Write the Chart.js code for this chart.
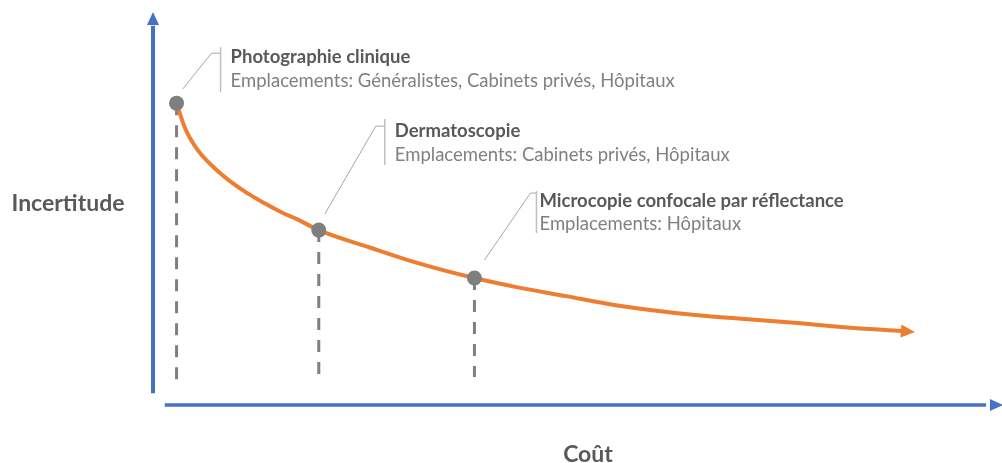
<!DOCTYPE html>
<html lang="fr">
<head>
<meta charset="utf-8">
<title>Incertitude vs Coût</title>
<script src="https://cdn.jsdelivr.net/npm/chart.js@4.4.1/dist/chart.umd.min.js"></script>
<style>
  html, body { margin: 0; padding: 0; background: #fff; }
  #wrap { width: 1002px; height: 463px; position: relative; }
</style>
</head>
<body>
<div id="wrap"><canvas id="chart" width="1002" height="463"></canvas></div>
<script>
// Courbe coût / incertitude (échelle 0-100 sur chaque axe)
const curveCost = [2.8, 3.8, 5.3, 7.3, 9.3, 11.2, 13.2, 15.2, 17.1, 19.7, 25.6, 31.5, 38.2, 43.2, 49.1, 55.0, 64.4, 70.3, 76.2, 82.1, 89.0];
const curveUncertainty = [76.8, 70.5, 64.9, 60.3, 56.7, 53.9, 51.4, 49.1, 47.3, 44.5, 40.2, 36.1, 32.3, 30.0, 27.7, 25.4, 22.9, 21.9, 20.9, 19.8, 18.8];

// Techniques d'imagerie
const techniques = ['Photographie clinique', 'Dermatoscopie', 'Microcopie confocale par réflectance'];
const locationsText = [
  'Emplacements: Généralistes, Cabinets privés, Hôpitaux',
  'Emplacements: Cabinets privés, Hôpitaux',
  'Emplacements: Hôpitaux'
];
const techCost = [2.8, 19.7, 38.2];
const techUncertainty = [76.8, 44.5, 32.3];
const dropBottom = [5.3, 6.9, 7.1];

const xTitle = 'Coût';
const yTitle = 'Incertitude';

const ORANGE = '#ED7D31';
const BLUE = '#4472C4';
const GREY = '#7F7F7F';
const FONT = 'Lato, "Open Sans", sans-serif';

// leader line / text placement, relative to each marker (px)
const callouts = [
  { sx: 6, sy: -14, ex: 35, ey: -50, bar: 44, barTop: -56, barBot: -11, tx: 54, ty1: -46, ty2: -22 },
  { sx: 6, sy: -16, ex: 57, ey: -104, bar: 66, barTop: -111, barBot: -65, tx: 76, ty1: -99, ty2: -75 },
  { sx: 10, sy: -18, ex: 56, ey: -85, bar: 62, barTop: -87, barBot: -45, tx: 65, ty1: -77, ty2: -54 }
];

function arrowHead(ctx, x0, y0, x1, y1, len, half, color) {
  const a = Math.atan2(y1 - y0, x1 - x0);
  const bx = x1 - Math.cos(a) * len, by = y1 - Math.sin(a) * len;
  ctx.fillStyle = color;
  ctx.beginPath();
  ctx.moveTo(x1, y1);
  ctx.lineTo(bx + Math.sin(a) * half, by - Math.cos(a) * half);
  ctx.lineTo(bx - Math.sin(a) * half, by + Math.cos(a) * half);
  ctx.closePath();
  ctx.fill();
}

const decor = {
  id: 'decor',
  beforeDatasetsDraw(chart) {
    const { ctx, scales: { x, y } } = chart;
    ctx.save();
    ctx.strokeStyle = BLUE;
    ctx.lineWidth = 4;
    // vertical axis
    const ax = x.getPixelForValue(0);
    ctx.beginPath();
    ctx.moveTo(ax, y.getPixelForValue(3));
    ctx.lineTo(ax, y.getPixelForValue(96.5));
    ctx.stroke();
    arrowHead(ctx, ax, y.getPixelForValue(50), ax, y.getPixelForValue(100), 13, 6, BLUE);
    // horizontal axis
    const ay = y.getPixelForValue(0);
    ctx.lineWidth = 3.5;
    ctx.beginPath();
    ctx.moveTo(x.getPixelForValue(1.4), ay);
    ctx.lineTo(x.getPixelForValue(99), ay);
    ctx.stroke();
    arrowHead(ctx, x.getPixelForValue(50), ay, x.getPixelForValue(101), ay, 13, 6, BLUE);

    // axis titles
    ctx.fillStyle = '#595959';
    ctx.font = 'bold 23px ' + FONT;
    ctx.textAlign = 'center';
    ctx.textBaseline = 'middle';
    ctx.fillText(yTitle, 68, 204);
    ctx.fillText(xTitle, 588, 455);
    ctx.restore();
  },
  afterDatasetsDraw(chart) {
    const { ctx, scales: { x, y } } = chart;
    ctx.save();
    // arrow at the end of the curve
    const n = curveCost.length;
    const px0 = x.getPixelForValue(curveCost[n - 2]), py0 = y.getPixelForValue(curveUncertainty[n - 2]);
    const px1 = x.getPixelForValue(curveCost[n - 1]), py1 = y.getPixelForValue(curveUncertainty[n - 1]);
    const a = Math.atan2(py1 - py0, px1 - px0);
    arrowHead(ctx, px1, py1, px1 + Math.cos(a) * 13, py1 + Math.sin(a) * 13, 14, 6.5, ORANGE);

    // callouts
    techniques.forEach((name, i) => {
      const c = callouts[i];
      const mx = x.getPixelForValue(techCost[i]);
      const my = y.getPixelForValue(techUncertainty[i]);
      ctx.strokeStyle = '#A6A6A6';
      ctx.lineWidth = 1;
      ctx.beginPath();
      ctx.moveTo(mx + c.sx, my + c.sy);
      ctx.lineTo(mx + c.ex, my + c.ey);
      ctx.lineTo(mx + c.bar, my + c.ey);
      ctx.stroke();
      ctx.strokeStyle = '#BFBFBF';
      ctx.lineWidth = 1.5;
      ctx.beginPath();
      ctx.moveTo(mx + c.bar, my + c.barTop);
      ctx.lineTo(mx + c.bar, my + c.barBot);
      ctx.stroke();

      ctx.textAlign = 'left';
      ctx.textBaseline = 'middle';
      ctx.fillStyle = '#595959';
      ctx.font = 'bold 18.5px ' + FONT;
      ctx.fillText(name, mx + c.tx, my + c.ty1);
      ctx.fillStyle = '#808080';
      ctx.font = '18.5px ' + FONT;
      ctx.fillText(locationsText[i], mx + c.tx, my + c.ty2);
    });
    ctx.restore();
  }
};

const dropSets = techCost.map((c, i) => ({
  data: [{ x: c, y: techUncertainty[i] }, { x: c, y: dropBottom[i] }],
  borderColor: GREY,
  borderWidth: 3,
  borderDash: [12, 10],
  pointRadius: 0,
  order: 3
}));

new Chart(document.getElementById('chart'), {
  type: 'line',
  data: {
    datasets: [
      {
        data: techCost.map((c, i) => ({ x: c, y: techUncertainty[i] })),
        showLine: false,
        pointRadius: 7.5,
        pointBackgroundColor: GREY,
        pointBorderColor: GREY,
        pointBorderWidth: 0,
        order: 0
      },
      {
        data: curveCost.map((c, i) => ({ x: c, y: curveUncertainty[i] })),
        borderColor: ORANGE,
        borderWidth: 4,
        cubicInterpolationMode: 'monotone',
        pointRadius: 0,
        order: 1
      },
      ...dropSets
    ]
  },
  options: {
    responsive: false,
    animation: false,
    devicePixelRatio: 1,
    clip: false,
    layout: { padding: { left: 153, right: 0, top: 12, bottom: 58 } },
    plugins: { legend: { display: false }, tooltip: { enabled: false } },
    scales: {
      x: { type: 'linear', min: 0, max: 100, display: false },
      y: { type: 'linear', min: 0, max: 100, display: false }
    }
  },
  plugins: [decor]
});
</script>
</body>
</html>
